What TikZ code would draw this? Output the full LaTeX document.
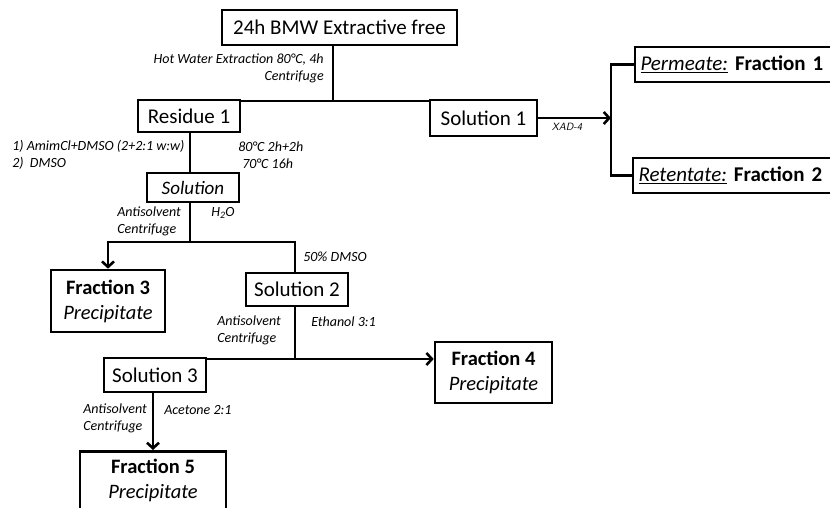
\documentclass[tikz,border=0pt]{standalone}
\usepackage{fontspec}
\setmainfont{Carlito}
\usetikzlibrary{arrows.meta,calc}
\begin{document}
\begin{tikzpicture}[x=1pt,y=-1pt,
  line width=2.6pt,
  box/.style={draw, line width=2.6pt, inner sep=0pt, align=center, font=\fontsize{21}{23}\selectfont},
  thinbox/.style={draw, line width=1.4pt, inner sep=0pt, align=center, font=\fontsize{19}{21}\selectfont\itshape},
  lbl/.style={inner sep=0pt, font=\fontsize{14}{17}\selectfont\itshape},
  arr/.style={-{Straight Barb[length=5.5pt,width=12pt,line width=2.6pt]}}]
\useasboundingbox (0,0) rectangle (830,508);
% boxes
\node[box, minimum width=235, minimum height=35] (top) at (339.5,27.5) {24h BMW Extractive free};
\node[box, minimum width=102, minimum height=32] (res) at (189,116) {Residue 1};
\node[box, minimum width=107, minimum height=36] (sol1) at (483.5,118) {Solution 1};
\node[box, minimum width=200, minimum height=35, text width=189, align=left] (perm) at (735,64.5) {\underline{\itshape Permeate:}\ \textbf{Fraction 1}};
\node[box, minimum width=202, minimum height=35, text width=191, align=left] (ret) at (734,175.5) {\underline{\itshape Retentate:}\ \textbf{Fraction 2}};
\node[thinbox, minimum width=92, minimum height=29] (sol) at (193,187.5) {Solution};
\node[box, minimum width=114, minimum height=62, font=\fontsize{20.5}{25}\selectfont] (f3) at (108,301) {\textbf{Fraction 3}\\\itshape Precipitate};
\node[box, minimum width=102, minimum height=33] (sol2) at (297,289.5) {Solution 2};
\node[box, minimum width=117, minimum height=61, font=\fontsize{20.5}{25}\selectfont] (f4) at (493.5,372.5) {\textbf{Fraction 4}\\\itshape Precipitate};
\node[box, minimum width=102, minimum height=34] (sol3) at (155,375) {Solution 3};
\node[box, minimum width=146, minimum height=74, anchor=north] (f5) at (153,450) {};
\node[inner sep=0pt, font=\fontsize{20.5}{25}\selectfont, align=center] (f5t) at (153,480.5) {\textbf{Fraction 5}\\\itshape Precipitate};
% junctions
\coordinate (j1) at (333,101);
\coordinate (br) at (611,118);
\coordinate (j2) at (190,242);
\coordinate (j3) at (295,359);
% connectors
\draw (top.south -| j1) -- (j1);
\draw (res.east |- j1) -- (sol1.west |- j1);
\draw[arr] (sol1.east) -- (br);
\draw (perm.west) -| (br) |- (ret.west);
\draw (res.south -| j2) -- (sol.north -| j2);
\draw (sol.south -| j2) -- (j2);
\draw[arr] (j2) -| (f3.north);
\draw (j2) -| (sol2.north -| j3);
\draw (sol2.south -| j3) -- (j3);
\draw[arr] (j3) -- (f4.west |- j3);
\draw (j3) -- (sol3.east |- j3);
\draw[arr] (sol3.south -| f5.north) -- (f5.north);
% labels
\node[lbl, anchor=east, align=right] (l1) at (325,68.5) {Hot Water Extraction 80°C, 4h\\Centrifuge};
\node[lbl, anchor=north, font=\fontsize{10.5}{12}\selectfont\sffamily\itshape] (l2) at (567,122) {XAD-4};
\node[lbl, anchor=west, align=left] (l3) at (11,155) {1) AmimCl+DMSO (2+2:1 w:w)\\2)\ \ DMSO};
\node[lbl, anchor=west] (l4a) at (237,147) {80°C 2h+2h};
\node[lbl, anchor=west] (l4b) at (241,164) {70°C 16h};
\node[lbl, anchor=west, align=left] (l5) at (116,221) {Antisolvent\\Centrifuge};
\node[lbl, anchor=west] (l6) at (210,213) {H\textsubscript{2}O};
\node[lbl, anchor=west] (l7) at (302,257) {50\% DMSO};
\node[lbl, anchor=west, align=left] (l8) at (216,330.5) {Antisolvent\\Centrifuge};
\node[lbl, anchor=west] (l9) at (310,322) {Ethanol 3:1};
\node[lbl, anchor=west, align=left] (l10) at (82,418.5) {Antisolvent\\Centrifuge};
\node[lbl, anchor=west] (l11) at (163,410) {Acetone 2:1};
\end{tikzpicture}
\end{document}
